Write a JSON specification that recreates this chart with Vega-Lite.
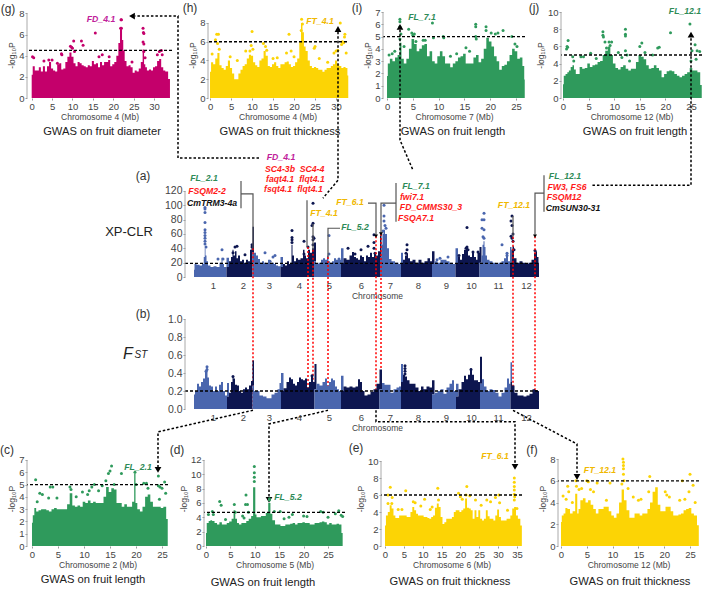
{"$schema":"https://vega.github.io/schema/vega-lite/v6.json","autosize":"none","padding":{"left":27,"top":12,"right":682,"bottom":578},"background":"white",
"config":{"font":"Liberation Sans","view":{"stroke":null},"axis":{"grid":false,"domain":false,"ticks":true,"tickSize":2,"tickColor":"#999","labelColor":"#444","titleColor":"#444","labelFontSize":9.5,"titleFontSize":8.5,"titleFontWeight":"normal","labelPadding":1,"titlePadding":2}},
"datasets":{
"gE":[{"x":0,"y":2.2},{"x":0.5,"y":3},{"x":1,"y":2.6},{"x":1.5,"y":2.6},{"x":2,"y":2.9},{"x":2.5,"y":2.5},{"x":3,"y":3},{"x":3.5,"y":2.5},{"x":4,"y":3},{"x":4.5,"y":3.4},{"x":5,"y":2.8},{"x":5.5,"y":2.6},{"x":6,"y":2.5},{"x":6.5,"y":3.2},{"x":7,"y":3.3},{"x":7.5,"y":2.7},{"x":8,"y":2.8},{"x":8.5,"y":3.4},{"x":9,"y":3.9},{"x":9.5,"y":4.3},{"x":10,"y":3.9},{"x":10.5,"y":3.3},{"x":11,"y":3},{"x":11.5,"y":3.4},{"x":12,"y":3.3},{"x":12.5,"y":3.1},{"x":13,"y":3},{"x":13.5,"y":2.9},{"x":14,"y":3.1},{"x":14.5,"y":3},{"x":15,"y":3.5},{"x":15.5,"y":3.2},{"x":16,"y":3.3},{"x":16.5,"y":2.9},{"x":17,"y":3.4},{"x":17.5,"y":3.1},{"x":18,"y":3.4},{"x":18.5,"y":3.4},{"x":19,"y":3.6},{"x":19.5,"y":3},{"x":20,"y":3.2},{"x":20.5,"y":3.4},{"x":21,"y":4},{"x":21.5,"y":5.2},{"x":21.8,"y":6.5},{"x":22,"y":6.5},{"x":22.3,"y":5.5},{"x":22.6,"y":4.5},{"x":23,"y":3.5},{"x":23.5,"y":3},{"x":24,"y":3.1},{"x":24.5,"y":2.9},{"x":25,"y":2.4},{"x":25.5,"y":2.6},{"x":26,"y":2.5},{"x":26.5,"y":2.8},{"x":27,"y":3.4},{"x":27.4,"y":4.6},{"x":27.7,"y":3.2},{"x":28,"y":2.9},{"x":28.5,"y":2.6},{"x":29,"y":2.7},{"x":29.5,"y":2.6},{"x":30,"y":2.9},{"x":30.5,"y":3},{"x":31,"y":3.5},{"x":31.5,"y":3.7},{"x":32,"y":2.9},{"x":32.5,"y":2.6},{"x":33,"y":2.5},{"x":33.9,"y":1.8}],
"gP":[{"x":0.2,"y":3.9},{"x":0.5,"y":3.8},{"x":3,"y":3.5},{"x":4.2,"y":3.6},{"x":5,"y":3.6},{"x":6.3,"y":3.3},{"x":7.3,"y":4.2},{"x":7.4,"y":4.1},{"x":9.5,"y":4.9},{"x":9.8,"y":4.8},{"x":10,"y":4.7},{"x":10.3,"y":5.4},{"x":10.5,"y":4.4},{"x":12.2,"y":5.4},{"x":12.6,"y":5},{"x":15.6,"y":6.15},{"x":17.3,"y":4.1},{"x":19,"y":3.9},{"x":21.9,"y":7.4},{"x":22,"y":7.4},{"x":21.8,"y":6.6},{"x":22,"y":6.6},{"x":27.3,"y":6.6},{"x":27.4,"y":6.2},{"x":27.5,"y":6.1},{"x":27.3,"y":5.3},{"x":27.5,"y":5.1},{"x":27.5,"y":4.4},{"x":27.8,"y":3.8},{"x":31.3,"y":4.4},{"x":30.8,"y":4.1},{"x":31.8,"y":4.5},{"x":32,"y":4.1},{"x":16.5,"y":3.9},{"x":24.6,"y":3.4}],
"hE":[{"x":0,"y":2.8},{"x":0.5,"y":3.8},{"x":1,"y":3.6},{"x":1.5,"y":4.2},{"x":2,"y":4.8},{"x":2.5,"y":3.5},{"x":3,"y":3.2},{"x":3.5,"y":3},{"x":4,"y":3.4},{"x":4.5,"y":4},{"x":5,"y":3.2},{"x":5.5,"y":2.6},{"x":6,"y":2},{"x":6.5,"y":2},{"x":7,"y":2.6},{"x":7.5,"y":3},{"x":8,"y":3.4},{"x":8.5,"y":3.6},{"x":9,"y":4.2},{"x":9.5,"y":4.6},{"x":10,"y":4.5},{"x":10.5,"y":3.8},{"x":11,"y":3.5},{"x":11.5,"y":3.3},{"x":12,"y":4},{"x":12.5,"y":4.2},{"x":13,"y":5},{"x":13.5,"y":4.5},{"x":14,"y":3.4},{"x":14.5,"y":3.3},{"x":15,"y":3.6},{"x":15.5,"y":3.8},{"x":16,"y":3.4},{"x":16.5,"y":3.2},{"x":17,"y":3.6},{"x":17.5,"y":3.6},{"x":18,"y":3.8},{"x":18.5,"y":3.9},{"x":19,"y":3.6},{"x":19.5,"y":3.3},{"x":20,"y":3.4},{"x":20.5,"y":3.8},{"x":21,"y":4.2},{"x":21.5,"y":6},{"x":21.8,"y":8},{"x":22.2,"y":7},{"x":22.5,"y":5.5},{"x":23,"y":5},{"x":23.5,"y":4},{"x":24,"y":3.4},{"x":24.5,"y":3.2},{"x":25,"y":3.3},{"x":25.5,"y":3.2},{"x":26,"y":3},{"x":26.5,"y":3},{"x":27,"y":2.8},{"x":27.5,"y":3},{"x":28,"y":3.2},{"x":28.5,"y":3.2},{"x":29,"y":3.4},{"x":29.5,"y":3.6},{"x":30,"y":4},{"x":30.5,"y":3.6},{"x":31,"y":3.4},{"x":31.5,"y":3.2},{"x":32,"y":3.3},{"x":32.5,"y":3.2},{"x":32.9,"y":2.4}],
"hP":[{"x":1.3,"y":6.2},{"x":1.6,"y":6.8},{"x":2,"y":6.8},{"x":1.8,"y":5.8},{"x":0.5,"y":4.7},{"x":2.2,"y":5.2},{"x":10,"y":7.1},{"x":4.8,"y":4.4},{"x":8.5,"y":5},{"x":9.5,"y":5},{"x":9.8,"y":5.6},{"x":10.2,"y":5.2},{"x":12.7,"y":5.8},{"x":13.2,"y":5.5},{"x":13.5,"y":5.1},{"x":18.8,"y":6.8},{"x":18.2,"y":4.8},{"x":19.3,"y":5},{"x":20,"y":4.4},{"x":21.8,"y":8.4},{"x":22,"y":7.9},{"x":21.7,"y":7.2},{"x":24.8,"y":5.3},{"x":25,"y":5.5},{"x":29.5,"y":4.8},{"x":30,"y":5},{"x":30.4,"y":5.1},{"x":31,"y":8},{"x":31.5,"y":6},{"x":32,"y":6.5},{"x":32.1,"y":6.8},{"x":31.3,"y":5.7},{"x":32.4,"y":4.8},{"x":31.8,"y":5.9},{"x":6.5,"y":4},{"x":15,"y":4.2},{"x":16,"y":4.3},{"x":26,"y":4.2},{"x":28,"y":3.8}],
"iE":[{"x":0,"y":1.8},{"x":0.3,"y":2.8},{"x":0.8,"y":3.2},{"x":1.3,"y":3},{"x":1.8,"y":3.3},{"x":2.3,"y":3.5},{"x":2.6,"y":4.5},{"x":3,"y":3.2},{"x":3.5,"y":2.8},{"x":4,"y":3.2},{"x":4.5,"y":4},{"x":5,"y":4.8},{"x":5.5,"y":4.4},{"x":6,"y":3.8},{"x":6.5,"y":4},{"x":7,"y":4.3},{"x":7.5,"y":4.4},{"x":8,"y":3.4},{"x":8.5,"y":3.8},{"x":9,"y":3},{"x":9.5,"y":2.8},{"x":10,"y":3.4},{"x":10.5,"y":3.8},{"x":11,"y":3.4},{"x":11.5,"y":2.8},{"x":12,"y":2.8},{"x":12.5,"y":2.5},{"x":13,"y":2.8},{"x":13.5,"y":3},{"x":14,"y":3.3},{"x":14.5,"y":3.4},{"x":15,"y":3.6},{"x":15.5,"y":2.8},{"x":16,"y":2.8},{"x":16.5,"y":2.8},{"x":17,"y":3.3},{"x":17.5,"y":3.5},{"x":18,"y":2.9},{"x":18.5,"y":3.2},{"x":19,"y":4},{"x":19.5,"y":4.9},{"x":20,"y":4.6},{"x":20.5,"y":4.2},{"x":21,"y":3.4},{"x":21.5,"y":3},{"x":22,"y":2.3},{"x":22.5,"y":2.6},{"x":23,"y":2.7},{"x":23.5,"y":3},{"x":24,"y":3.5},{"x":24.5,"y":4},{"x":25,"y":3.8},{"x":25.5,"y":3.2},{"x":26,"y":3.3},{"x":26.5,"y":2.6},{"x":26.7,"y":1.5}],
"iP":[{"x":0.4,"y":3.5},{"x":1,"y":3.6},{"x":1.5,"y":3.8},{"x":2.5,"y":6.4},{"x":2.5,"y":6.2},{"x":2.5,"y":5.8},{"x":2.7,"y":5.2},{"x":2.5,"y":4.8},{"x":3.3,"y":4.2},{"x":4.2,"y":5.6},{"x":4.8,"y":5.3},{"x":5,"y":5.1},{"x":5.3,"y":5.2},{"x":5.6,"y":4.6},{"x":7,"y":4.7},{"x":7.4,"y":4.7},{"x":8.8,"y":6.1},{"x":9,"y":4.9},{"x":10.9,"y":5},{"x":11,"y":4.9},{"x":17.2,"y":6},{"x":17.2,"y":5.8},{"x":17.2,"y":5},{"x":17.3,"y":4.8},{"x":19.2,"y":5.8},{"x":19.2,"y":5.5},{"x":20.2,"y":5.3},{"x":21,"y":5.2},{"x":21.5,"y":5.3},{"x":22.5,"y":5.5},{"x":24.2,"y":5},{"x":24.8,"y":4.4},{"x":25.2,"y":4.2},{"x":13.5,"y":3.6},{"x":12.3,"y":3.4},{"x":15.3,"y":4.1},{"x":16,"y":3.8}],
"jE":[{"x":0,"y":1.6},{"x":0.3,"y":2.6},{"x":0.7,"y":2.8},{"x":1,"y":3},{"x":1.3,"y":3.2},{"x":1.7,"y":3.6},{"x":2,"y":3.8},{"x":2.3,"y":3.3},{"x":2.7,"y":2.8},{"x":3,"y":2.8},{"x":3.5,"y":3.6},{"x":4,"y":3.4},{"x":4.5,"y":3.5},{"x":5,"y":4},{"x":5.5,"y":3.6},{"x":6,"y":3.8},{"x":6.5,"y":3.9},{"x":7,"y":4.2},{"x":7.5,"y":4.3},{"x":8,"y":5},{"x":8.5,"y":5.5},{"x":9,"y":6},{"x":9.5,"y":5},{"x":10,"y":4},{"x":10.5,"y":3.5},{"x":11,"y":3.3},{"x":11.5,"y":3.6},{"x":12,"y":3.8},{"x":12.5,"y":3.4},{"x":13,"y":3.2},{"x":13.5,"y":3.4},{"x":14,"y":3.4},{"x":14.5,"y":4.2},{"x":15,"y":5},{"x":15.5,"y":4.8},{"x":16,"y":4.5},{"x":16.5,"y":3.8},{"x":17,"y":3.4},{"x":17.5,"y":3.5},{"x":18,"y":3.8},{"x":18.5,"y":3.5},{"x":19,"y":3.2},{"x":19.5,"y":2.4},{"x":20,"y":2.8},{"x":20.5,"y":3.1},{"x":21,"y":3.2},{"x":21.5,"y":3.1},{"x":22,"y":2.8},{"x":22.5,"y":2.6},{"x":23,"y":2.4},{"x":23.5,"y":2.6},{"x":24,"y":2.8},{"x":24.5,"y":3},{"x":25,"y":3.5},{"x":25.5,"y":3.2},{"x":26,"y":3.2},{"x":26.5,"y":3},{"x":27.1,"y":1.5}],
"jP":[{"x":0.7,"y":5.7},{"x":0.8,"y":6},{"x":0.9,"y":5.9},{"x":1,"y":6.7},{"x":1.9,"y":4.8},{"x":2.1,"y":4.3},{"x":3.5,"y":4.8},{"x":5.4,"y":5.2},{"x":7.8,"y":7.7},{"x":7.8,"y":7.3},{"x":7.9,"y":7.1},{"x":8.2,"y":6.5},{"x":9,"y":6.5},{"x":9.5,"y":6.5},{"x":8.5,"y":5.8},{"x":9.2,"y":6.1},{"x":12.2,"y":8},{"x":12.2,"y":7.4},{"x":12.2,"y":7.2},{"x":12.2,"y":5.5},{"x":11.5,"y":4.7},{"x":12.5,"y":5},{"x":13,"y":4.3},{"x":15.4,"y":6.4},{"x":15,"y":6},{"x":16,"y":5.3},{"x":17.5,"y":5},{"x":18.5,"y":5.8},{"x":18.8,"y":5.9},{"x":21,"y":7.6},{"x":24.8,"y":8.6},{"x":25.2,"y":5.5},{"x":25.8,"y":6.2},{"x":26.2,"y":5.5},{"x":26.7,"y":5.4},{"x":26,"y":4.5},{"x":25,"y":4.3},{"x":10.8,"y":5.3},{"x":6.5,"y":4.6},{"x":4,"y":4.8}],
"cE":[{"x":0,"y":1.9},{"x":0.3,"y":2.5},{"x":0.6,"y":3.1},{"x":1,"y":2.8},{"x":1.5,"y":2.9},{"x":2,"y":3},{"x":2.5,"y":3},{"x":3,"y":2.9},{"x":3.5,"y":2.8},{"x":4,"y":3},{"x":4.5,"y":3.1},{"x":5,"y":3},{"x":5.5,"y":3},{"x":6,"y":3},{"x":6.5,"y":3},{"x":7,"y":3.4},{"x":7.5,"y":4.3},{"x":8,"y":3.3},{"x":8.5,"y":3.2},{"x":9,"y":3.3},{"x":9.5,"y":3.2},{"x":10,"y":3.6},{"x":10.5,"y":3.5},{"x":11,"y":3.7},{"x":11.5,"y":3.5},{"x":12,"y":3.6},{"x":12.5,"y":3.5},{"x":13,"y":3.5},{"x":13.5,"y":3.5},{"x":14,"y":4},{"x":14.5,"y":4.8},{"x":15,"y":4.4},{"x":15.5,"y":4.7},{"x":16,"y":4.6},{"x":16.5,"y":3.5},{"x":17,"y":3.5},{"x":17.5,"y":3.2},{"x":18,"y":3.4},{"x":18.5,"y":3.2},{"x":19,"y":3.2},{"x":19.5,"y":3.6},{"x":19.8,"y":5.9},{"x":20,"y":3.5},{"x":20.5,"y":3},{"x":21,"y":2.8},{"x":21.5,"y":3.2},{"x":22,"y":4},{"x":22.5,"y":4.2},{"x":23,"y":3.6},{"x":23.5,"y":3.2},{"x":24,"y":3.2},{"x":24.5,"y":3.2},{"x":25,"y":3.1},{"x":25.5,"y":3.2},{"x":26.1,"y":2.2}],
"cP":[{"x":0.7,"y":5.4},{"x":1,"y":3.6},{"x":1.5,"y":4.3},{"x":2,"y":4.2},{"x":3.5,"y":4.8},{"x":4,"y":4.8},{"x":3.2,"y":3.9},{"x":4.8,"y":3.9},{"x":7.3,"y":4.8},{"x":7.5,"y":4.6},{"x":8.5,"y":4},{"x":11,"y":4.5},{"x":11.5,"y":4.8},{"x":12,"y":5},{"x":12.8,"y":4.5},{"x":13.5,"y":4.9},{"x":14.2,"y":5.3},{"x":14.7,"y":5.9},{"x":15,"y":6.1},{"x":15.3,"y":6.5},{"x":15.8,"y":5},{"x":17.2,"y":5.9},{"x":19.8,"y":6},{"x":20,"y":5},{"x":21.5,"y":5.1},{"x":22,"y":5.1},{"x":22.3,"y":4.7},{"x":24.3,"y":5.7},{"x":24.3,"y":4.9},{"x":24.6,"y":4.8},{"x":25,"y":4.7},{"x":25.5,"y":5.2},{"x":25.7,"y":4.3},{"x":24.5,"y":3.8},{"x":9.7,"y":4.4},{"x":10.7,"y":4.2}],
"dE":[{"x":0,"y":1.8},{"x":0.3,"y":3.2},{"x":0.8,"y":3.5},{"x":1,"y":3.6},{"x":1.5,"y":3.5},{"x":2,"y":3.2},{"x":2.5,"y":3},{"x":3,"y":3.3},{"x":3.5,"y":3},{"x":4,"y":3},{"x":4.5,"y":3.2},{"x":5,"y":3.4},{"x":5.5,"y":3.8},{"x":5.8,"y":5},{"x":6.2,"y":3.8},{"x":6.5,"y":3.2},{"x":7,"y":3},{"x":7.5,"y":3.2},{"x":8,"y":3.2},{"x":8.5,"y":3.5},{"x":9,"y":3.8},{"x":9.5,"y":4.2},{"x":9.8,"y":8.2},{"x":10,"y":8.2},{"x":10.2,"y":4.4},{"x":10.5,"y":4},{"x":11,"y":4},{"x":11.5,"y":4.2},{"x":12,"y":4.2},{"x":12.5,"y":4.6},{"x":13,"y":6},{"x":13.4,"y":4.5},{"x":13.8,"y":3.6},{"x":14.5,"y":3},{"x":15,"y":3},{"x":15.5,"y":2.8},{"x":16,"y":2.8},{"x":16.5,"y":3},{"x":17,"y":3},{"x":17.5,"y":3.1},{"x":18,"y":3.2},{"x":18.5,"y":3},{"x":19,"y":3.2},{"x":19.5,"y":3.2},{"x":20,"y":3.3},{"x":20.5,"y":3.2},{"x":21,"y":3.2},{"x":21.5,"y":3},{"x":22,"y":3},{"x":22.5,"y":3.2},{"x":23,"y":3.2},{"x":23.5,"y":3.3},{"x":24,"y":3.4},{"x":24.5,"y":3.3},{"x":25,"y":3},{"x":25.5,"y":3.2},{"x":26,"y":3},{"x":26.5,"y":3},{"x":27,"y":3.1},{"x":27.5,"y":3},{"x":28,"y":1.8}],
"dP":[{"x":0.5,"y":4.4},{"x":1.3,"y":4.8},{"x":1.5,"y":4.4},{"x":2.8,"y":6.2},{"x":3.1,"y":5.7},{"x":4,"y":3.7},{"x":5.8,"y":5.8},{"x":6,"y":4.7},{"x":8.2,"y":7.1},{"x":8.1,"y":5.8},{"x":8.5,"y":5.8},{"x":8.7,"y":4.7},{"x":9.9,"y":11.1},{"x":9.9,"y":10.2},{"x":9.9,"y":9.6},{"x":9.9,"y":9},{"x":13,"y":6.6},{"x":13,"y":6.4},{"x":14,"y":4.8},{"x":15.2,"y":4.8},{"x":17,"y":4},{"x":17.7,"y":4.4},{"x":20,"y":4.2},{"x":20.7,"y":4.1},{"x":23.5,"y":4.8},{"x":24,"y":4.7},{"x":25,"y":4},{"x":27.2,"y":4.9},{"x":27.7,"y":4.3},{"x":28,"y":4.1},{"x":26.5,"y":4.5},{"x":7.5,"y":4.2},{"x":7.8,"y":3.9},{"x":16,"y":3.8}],
"eE":[{"x":0,"y":2.4},{"x":0.5,"y":3.6},{"x":1,"y":4},{"x":1.5,"y":4.8},{"x":2,"y":4.4},{"x":2.5,"y":3.6},{"x":3,"y":3.3},{"x":3.5,"y":3.3},{"x":4,"y":3.6},{"x":4.5,"y":3.6},{"x":5,"y":3.6},{"x":5.5,"y":3.6},{"x":6,"y":3.4},{"x":6.5,"y":3.4},{"x":7,"y":4},{"x":7.5,"y":4.6},{"x":8,"y":4.2},{"x":8.5,"y":3.8},{"x":9,"y":3.6},{"x":9.5,"y":3.6},{"x":10,"y":3.6},{"x":10.5,"y":3.4},{"x":11,"y":3.4},{"x":11.5,"y":3.3},{"x":12,"y":3.2},{"x":12.5,"y":3.4},{"x":13,"y":3.6},{"x":13.5,"y":4.5},{"x":14,"y":5},{"x":14.5,"y":4.6},{"x":15,"y":3.4},{"x":15.5,"y":2.6},{"x":16,"y":2.8},{"x":16.5,"y":3.2},{"x":17,"y":3.2},{"x":17.5,"y":3.2},{"x":18,"y":3.4},{"x":18.5,"y":4},{"x":19,"y":4.2},{"x":19.5,"y":4.2},{"x":20,"y":4},{"x":20.5,"y":4.2},{"x":21,"y":4.4},{"x":21.5,"y":5.6},{"x":22,"y":4.5},{"x":22.5,"y":4.4},{"x":23,"y":4.2},{"x":23.5,"y":3.2},{"x":24,"y":4.2},{"x":24.5,"y":3.4},{"x":25,"y":4.2},{"x":25.5,"y":3.2},{"x":26,"y":3},{"x":26.5,"y":3.2},{"x":27,"y":4.2},{"x":27.5,"y":3.5},{"x":28,"y":3.2},{"x":28.5,"y":3.2},{"x":29,"y":3},{"x":29.5,"y":3.6},{"x":30,"y":4.3},{"x":30.5,"y":3.4},{"x":31,"y":3},{"x":31.5,"y":3},{"x":32,"y":3},{"x":32.5,"y":3.2},{"x":33,"y":3.2},{"x":33.5,"y":3.6},{"x":34,"y":4.4},{"x":34.5,"y":4.6},{"x":35,"y":3.6},{"x":35.5,"y":3.2},{"x":36.3,"y":2.4}],
"eP":[{"x":0.8,"y":6},{"x":1.4,"y":6.9},{"x":1.9,"y":5.7},{"x":0.8,"y":5},{"x":1.8,"y":5},{"x":5.5,"y":6.5},{"x":3.5,"y":4.3},{"x":4.5,"y":4.3},{"x":7.5,"y":5.2},{"x":8,"y":5.1},{"x":10.5,"y":5.5},{"x":9.5,"y":4.7},{"x":12,"y":4.3},{"x":12.5,"y":4.6},{"x":14,"y":6.8},{"x":14.2,"y":5.4},{"x":19.5,"y":6.2},{"x":20,"y":5.8},{"x":20.5,"y":5.5},{"x":21.7,"y":7},{"x":21.5,"y":6},{"x":22.5,"y":5.9},{"x":24,"y":5.4},{"x":25.5,"y":4.8},{"x":27,"y":5.4},{"x":28,"y":5.2},{"x":29.3,"y":5.7},{"x":30.2,"y":6},{"x":30.4,"y":5.1},{"x":32.5,"y":4.2},{"x":34.3,"y":8},{"x":34.3,"y":7.5},{"x":34.3,"y":7},{"x":34.3,"y":6.6},{"x":34.3,"y":6.1},{"x":34.4,"y":5.8},{"x":34.3,"y":5.4},{"x":35,"y":4.4}],
"fE":[{"x":0,"y":2.2},{"x":0.3,"y":2.8},{"x":0.7,"y":3},{"x":1,"y":3.5},{"x":1.5,"y":3.4},{"x":2,"y":3},{"x":2.5,"y":3.2},{"x":3,"y":4.8},{"x":3.3,"y":3},{"x":3.5,"y":3.4},{"x":4,"y":4.2},{"x":4.5,"y":4.4},{"x":5,"y":4},{"x":5.5,"y":4.2},{"x":6,"y":3.8},{"x":6.5,"y":3.4},{"x":7,"y":3},{"x":7.5,"y":3.4},{"x":8,"y":3.4},{"x":8.5,"y":3.6},{"x":9,"y":3.6},{"x":9.5,"y":3.2},{"x":10,"y":2.8},{"x":10.5,"y":2.6},{"x":11,"y":3},{"x":11.5,"y":4},{"x":12,"y":5.2},{"x":12.4,"y":4.2},{"x":13,"y":3.3},{"x":13.5,"y":2.6},{"x":14,"y":2.6},{"x":14.5,"y":3},{"x":15,"y":3},{"x":15.5,"y":2.8},{"x":16,"y":3},{"x":16.5,"y":3},{"x":17,"y":3.4},{"x":17.5,"y":4},{"x":18,"y":5},{"x":18.5,"y":5.4},{"x":19,"y":3.8},{"x":19.5,"y":3.2},{"x":20,"y":3.2},{"x":20.5,"y":3.6},{"x":21,"y":3.6},{"x":21.5,"y":3.2},{"x":22,"y":2.8},{"x":22.5,"y":2.8},{"x":23,"y":2.9},{"x":23.5,"y":3},{"x":24,"y":3.3},{"x":24.5,"y":3.4},{"x":25,"y":3.5},{"x":25.5,"y":3},{"x":26,"y":2.8},{"x":26.7,"y":1.9}],
"fP":[{"x":0.4,"y":4.6},{"x":1,"y":4.3},{"x":1.3,"y":5.5},{"x":1.5,"y":5},{"x":2.2,"y":4},{"x":2.9,"y":6},{"x":3,"y":5.5},{"x":3.5,"y":5.2},{"x":4,"y":5.3},{"x":5,"y":6},{"x":5.3,"y":5.9},{"x":5.7,"y":5.2},{"x":6.3,"y":5},{"x":7,"y":5.8},{"x":8.8,"y":4.2},{"x":9.5,"y":5.8},{"x":11.8,"y":5.7},{"x":12,"y":8},{"x":12.1,"y":7.7},{"x":12.1,"y":7.4},{"x":12.1,"y":7.1},{"x":12.1,"y":6.6},{"x":12.2,"y":6},{"x":13,"y":5.3},{"x":14,"y":4.5},{"x":15.5,"y":4.3},{"x":17.2,"y":6.4},{"x":17,"y":5},{"x":20.2,"y":5},{"x":20.5,"y":4.7},{"x":21,"y":4.5},{"x":23.5,"y":6},{"x":25,"y":6.6},{"x":25.6,"y":5.6},{"x":24.8,"y":5},{"x":24,"y":4.3},{"x":23,"y":4.2},{"x":26,"y":4},{"x":15,"y":4.2}],
"aE":[{"c":1,"x":9,"y":10},{"c":1,"x":10,"y":18},{"c":1,"x":13,"y":17},{"c":1,"x":16,"y":16},{"c":1,"x":18,"y":18},{"c":1,"x":19.5,"y":28},{"c":1,"x":20,"y":40},{"c":1,"x":21,"y":30},{"c":1,"x":22,"y":22},{"c":1,"x":24,"y":16},{"c":1,"x":27,"y":14},{"c":1,"x":30,"y":15},{"c":1,"x":33,"y":14},{"c":1,"x":36,"y":20},{"c":1,"x":37,"y":27},{"c":1,"x":38,"y":18},{"c":1,"x":40,"y":14},{"c":1,"x":43,"y":13},
{"c":2,"x":43,"y":14},{"c":2,"x":45,"y":22},{"c":2,"x":47,"y":28},{"c":2,"x":48,"y":38},{"c":2,"x":49,"y":30},{"c":2,"x":51,"y":36},{"c":2,"x":52,"y":26},{"c":2,"x":54,"y":30},{"c":2,"x":56,"y":22},{"c":2,"x":58,"y":24},{"c":2,"x":60,"y":20},{"c":2,"x":62,"y":24},{"c":2,"x":64,"y":22},{"c":2,"x":66,"y":38},{"c":2,"x":67,"y":40},{"c":2,"x":68,"y":35},
{"c":3,"x":68,"y":35},{"c":3,"x":70,"y":34},{"c":3,"x":72,"y":30},{"c":3,"x":74,"y":25},{"c":3,"x":76,"y":20},{"c":3,"x":78,"y":22},{"c":3,"x":80,"y":20},{"c":3,"x":82,"y":19},{"c":3,"x":84,"y":24},{"c":3,"x":86,"y":20},{"c":3,"x":88,"y":20},{"c":3,"x":90,"y":18},{"c":3,"x":92,"y":16},{"c":3,"x":94,"y":15},{"c":3,"x":97,"y":14},
{"c":4,"x":97,"y":14},{"c":4,"x":99,"y":18},{"c":4,"x":101,"y":16},{"c":4,"x":103,"y":22},{"c":4,"x":105,"y":18},{"c":4,"x":106,"y":20},{"c":4,"x":107,"y":45},{"c":4,"x":108,"y":30},{"c":4,"x":110,"y":22},{"c":4,"x":112,"y":26},{"c":4,"x":114,"y":24},{"c":4,"x":117,"y":26},{"c":4,"x":119,"y":38},{"c":4,"x":120,"y":30},{"c":4,"x":122,"y":26},{"c":4,"x":124,"y":38},{"c":4,"x":126,"y":34},{"c":4,"x":128,"y":40},{"c":4,"x":130,"y":26},
{"c":5,"x":130,"y":22},{"c":5,"x":132,"y":18},{"c":5,"x":135,"y":20},{"c":5,"x":137,"y":24},{"c":5,"x":139,"y":26},{"c":5,"x":141,"y":24},{"c":5,"x":143,"y":30},{"c":5,"x":144,"y":22},{"c":5,"x":146,"y":20},{"c":5,"x":148,"y":22},{"c":5,"x":150,"y":26},{"c":5,"x":152,"y":24},{"c":5,"x":155,"y":24},{"c":5,"x":157,"y":20},
{"c":6,"x":157,"y":20},{"c":6,"x":160,"y":26},{"c":6,"x":163,"y":24},{"c":6,"x":166,"y":30},{"c":6,"x":168,"y":35},{"c":6,"x":170,"y":28},{"c":6,"x":172,"y":26},{"c":6,"x":174,"y":24},{"c":6,"x":176,"y":30},{"c":6,"x":178,"y":28},{"c":6,"x":180,"y":22},{"c":6,"x":182,"y":30},{"c":6,"x":184,"y":28},{"c":6,"x":186,"y":34},{"c":6,"x":188,"y":28},{"c":6,"x":190,"y":32},{"c":6,"x":192,"y":30},{"c":6,"x":194,"y":36},{"c":6,"x":196,"y":30},
{"c":7,"x":196,"y":28},{"c":7,"x":197,"y":45},{"c":7,"x":198,"y":60},{"c":7,"x":199,"y":66},{"c":7,"x":201,"y":60},{"c":7,"x":203,"y":40},{"c":7,"x":205,"y":25},{"c":7,"x":208,"y":22},{"c":7,"x":212,"y":20},{"c":7,"x":215,"y":18},{"c":7,"x":217,"y":16},
{"c":8,"x":217,"y":18},{"c":8,"x":219,"y":24},{"c":8,"x":221,"y":30},{"c":8,"x":222,"y":33},{"c":8,"x":224,"y":26},{"c":8,"x":226,"y":22},{"c":8,"x":229,"y":24},{"c":8,"x":232,"y":20},{"c":8,"x":235,"y":24},{"c":8,"x":238,"y":20},{"c":8,"x":241,"y":22},{"c":8,"x":244,"y":26},{"c":8,"x":246,"y":22},{"c":8,"x":248,"y":18},
{"c":9,"x":248,"y":18},{"c":9,"x":251,"y":22},{"c":9,"x":254,"y":20},{"c":9,"x":257,"y":24},{"c":9,"x":260,"y":24},{"c":9,"x":263,"y":22},{"c":9,"x":266,"y":20},{"c":9,"x":269,"y":18},{"c":9,"x":272,"y":22},
{"c":10,"x":272,"y":18},{"c":10,"x":274,"y":28},{"c":10,"x":276,"y":24},{"c":10,"x":278,"y":32},{"c":10,"x":280,"y":38},{"c":10,"x":282,"y":43},{"c":10,"x":284,"y":30},{"c":10,"x":286,"y":28},{"c":10,"x":288,"y":36},{"c":10,"x":290,"y":28},{"c":10,"x":292,"y":24},{"c":10,"x":293,"y":34},{"c":10,"x":296,"y":22},
{"c":11,"x":296,"y":20},{"c":11,"x":297,"y":30},{"c":11,"x":298,"y":45},{"c":11,"x":299,"y":50},{"c":11,"x":300,"y":42},{"c":11,"x":301,"y":30},{"c":11,"x":303,"y":24},{"c":11,"x":306,"y":22},{"c":11,"x":309,"y":20},{"c":11,"x":312,"y":18},{"c":11,"x":315,"y":20},{"c":11,"x":318,"y":22},{"c":11,"x":320,"y":26},{"c":11,"x":322,"y":33},{"c":11,"x":324,"y":22},{"c":11,"x":326,"y":22},
{"c":12,"x":326,"y":20},{"c":12,"x":327,"y":38},{"c":12,"x":328,"y":43},{"c":12,"x":330,"y":26},{"c":12,"x":333,"y":20},{"c":12,"x":336,"y":22},{"c":12,"x":339,"y":20},{"c":12,"x":342,"y":18},{"c":12,"x":345,"y":20},{"c":12,"x":348,"y":24},{"c":12,"x":350,"y":34},{"c":12,"x":351,"y":36},{"c":12,"x":353,"y":28},{"c":12,"x":354,"y":20}],
"aP":[{"c":1,"x":20,"y":97},{"c":1,"x":20,"y":95},{"c":1,"x":20,"y":90},{"c":1,"x":20,"y":76},{"c":1,"x":20,"y":66},{"c":1,"x":20,"y":62},{"c":1,"x":20,"y":58},{"c":1,"x":20,"y":54},{"c":1,"x":20,"y":50},{"c":1,"x":20,"y":46},{"c":1,"x":21,"y":42},{"c":1,"x":37,"y":38},{"c":1,"x":33,"y":25},{"c":1,"x":38,"y":25},
{"c":2,"x":50,"y":42},{"c":2,"x":52,"y":43},{"c":2,"x":48,"y":34},{"c":2,"x":60,"y":31},{"c":2,"x":67,"y":42},{"c":2,"x":67,"y":45},
{"c":3,"x":80,"y":34},{"c":3,"x":88,"y":28},{"c":3,"x":90,"y":30},{"c":3,"x":85,"y":22},
{"c":4,"x":107,"y":65},{"c":4,"x":107,"y":55},{"c":4,"x":107,"y":52},{"c":4,"x":107,"y":48},{"c":4,"x":119,"y":50},{"c":4,"x":119,"y":32},{"c":4,"x":123,"y":42},{"c":4,"x":128,"y":103},{"c":4,"x":128,"y":75},{"c":4,"x":127,"y":72},{"c":4,"x":128,"y":56},{"c":4,"x":129,"y":54},{"c":4,"x":128,"y":52},{"c":4,"x":128,"y":45},
{"c":5,"x":144,"y":58},{"c":5,"x":144,"y":32},{"c":5,"x":154,"y":25},
{"c":6,"x":163,"y":40},{"c":6,"x":183,"y":43},{"c":6,"x":189,"y":59},{"c":6,"x":189,"y":48},{"c":6,"x":189,"y":40},{"c":6,"x":190,"y":33},{"c":6,"x":176,"y":38},{"c":6,"x":170,"y":32},
{"c":7,"x":199,"y":100},{"c":7,"x":199,"y":85},{"c":7,"x":199,"y":78},{"c":7,"x":200,"y":72},{"c":7,"x":198,"y":64},{"c":7,"x":201,"y":68},
{"c":8,"x":222,"y":45},{"c":8,"x":222,"y":38},{"c":8,"x":221,"y":33},
{"c":9,"x":255,"y":26},{"c":9,"x":263,"y":28},{"c":9,"x":252,"y":24},
{"c":10,"x":282,"y":69},{"c":10,"x":282,"y":42},{"c":10,"x":281,"y":40},{"c":10,"x":283,"y":38},{"c":10,"x":288,"y":35},{"c":10,"x":293,"y":35},{"c":10,"x":274,"y":30},
{"c":11,"x":299,"y":89},{"c":11,"x":297,"y":80},{"c":11,"x":299,"y":80},{"c":11,"x":297,"y":68},{"c":11,"x":299,"y":66},{"c":11,"x":298,"y":56},{"c":11,"x":299,"y":54},{"c":11,"x":317,"y":45},{"c":11,"x":322,"y":33},{"c":11,"x":322,"y":30},
{"c":12,"x":327,"y":85},{"c":12,"x":326,"y":78},{"c":12,"x":327,"y":72},{"c":12,"x":328,"y":60},{"c":12,"x":326,"y":57},{"c":12,"x":327,"y":54},{"c":12,"x":328,"y":50},{"c":12,"x":329,"y":38},{"c":12,"x":350,"y":37}],
"bE":[{"c":1,"x":9,"y":0.16},{"c":1,"x":11,"y":0.2},{"c":1,"x":13,"y":0.28},{"c":1,"x":15,"y":0.25},{"c":1,"x":17,"y":0.3},{"c":1,"x":19,"y":0.34},{"c":1,"x":21,"y":0.42},{"c":1,"x":22,"y":0.47},{"c":1,"x":23,"y":0.35},{"c":1,"x":25,"y":0.26},{"c":1,"x":27,"y":0.25},{"c":1,"x":29,"y":0.2},{"c":1,"x":31,"y":0.25},{"c":1,"x":33,"y":0.2},{"c":1,"x":35,"y":0.27},{"c":1,"x":37,"y":0.3},{"c":1,"x":39,"y":0.2},{"c":1,"x":41,"y":0.15},{"c":1,"x":43,"y":0.15},
{"c":2,"x":43,"y":0.14},{"c":2,"x":45,"y":0.18},{"c":2,"x":47,"y":0.3},{"c":2,"x":48,"y":0.36},{"c":2,"x":49,"y":0.34},{"c":2,"x":51,"y":0.27},{"c":2,"x":53,"y":0.26},{"c":2,"x":55,"y":0.2},{"c":2,"x":57,"y":0.18},{"c":2,"x":59,"y":0.22},{"c":2,"x":61,"y":0.24},{"c":2,"x":63,"y":0.22},{"c":2,"x":65,"y":0.26},{"c":2,"x":67,"y":0.31},{"c":2,"x":68,"y":0.28},
{"c":3,"x":68,"y":0.26},{"c":3,"x":70,"y":0.2},{"c":3,"x":73,"y":0.2},{"c":3,"x":76,"y":0.15},{"c":3,"x":80,"y":0.14},{"c":3,"x":83,"y":0.12},{"c":3,"x":85,"y":0.12},{"c":3,"x":88,"y":0.16},{"c":3,"x":91,"y":0.18},{"c":3,"x":94,"y":0.22},{"c":3,"x":95,"y":0.29},{"c":3,"x":97,"y":0.2},
{"c":4,"x":97,"y":0.2},{"c":4,"x":100,"y":0.23},{"c":4,"x":103,"y":0.3},{"c":4,"x":105,"y":0.35},{"c":4,"x":107,"y":0.33},{"c":4,"x":109,"y":0.28},{"c":4,"x":111,"y":0.26},{"c":4,"x":113,"y":0.3},{"c":4,"x":115,"y":0.35},{"c":4,"x":117,"y":0.33},{"c":4,"x":119,"y":0.32},{"c":4,"x":121,"y":0.34},{"c":4,"x":123,"y":0.24},{"c":4,"x":125,"y":0.3},{"c":4,"x":127,"y":0.37},{"c":4,"x":129,"y":0.3},{"c":4,"x":130,"y":0.28},
{"c":5,"x":130,"y":0.22},{"c":5,"x":133,"y":0.28},{"c":5,"x":136,"y":0.26},{"c":5,"x":139,"y":0.3},{"c":5,"x":141,"y":0.34},{"c":5,"x":143,"y":0.26},{"c":5,"x":145,"y":0.3},{"c":5,"x":147,"y":0.34},{"c":5,"x":149,"y":0.32},{"c":5,"x":151,"y":0.25},{"c":5,"x":153,"y":0.22},{"c":5,"x":155,"y":0.2},{"c":5,"x":157,"y":0.17},
{"c":6,"x":157,"y":0.2},{"c":6,"x":160,"y":0.25},{"c":6,"x":163,"y":0.24},{"c":6,"x":166,"y":0.25},{"c":6,"x":169,"y":0.24},{"c":6,"x":172,"y":0.25},{"c":6,"x":174,"y":0.33},{"c":6,"x":176,"y":0.3},{"c":6,"x":178,"y":0.2},{"c":6,"x":181,"y":0.15},{"c":6,"x":184,"y":0.16},{"c":6,"x":187,"y":0.19},{"c":6,"x":190,"y":0.22},{"c":6,"x":193,"y":0.28},{"c":6,"x":196,"y":0.22},
{"c":7,"x":196,"y":0.22},{"c":7,"x":198,"y":0.29},{"c":7,"x":201,"y":0.27},{"c":7,"x":204,"y":0.27},{"c":7,"x":207,"y":0.18},{"c":7,"x":210,"y":0.22},{"c":7,"x":213,"y":0.24},{"c":7,"x":215,"y":0.25},{"c":7,"x":217,"y":0.2},
{"c":8,"x":217,"y":0.3},{"c":8,"x":219,"y":0.38},{"c":8,"x":221,"y":0.36},{"c":8,"x":223,"y":0.32},{"c":8,"x":226,"y":0.28},{"c":8,"x":229,"y":0.28},{"c":8,"x":232,"y":0.24},{"c":8,"x":235,"y":0.2},{"c":8,"x":237,"y":0.25},{"c":8,"x":240,"y":0.22},{"c":8,"x":243,"y":0.25},{"c":8,"x":246,"y":0.24},{"c":8,"x":248,"y":0.16},
{"c":9,"x":248,"y":0.16},{"c":9,"x":251,"y":0.18},{"c":9,"x":254,"y":0.2},{"c":9,"x":257,"y":0.22},{"c":9,"x":260,"y":0.17},{"c":9,"x":263,"y":0.24},{"c":9,"x":266,"y":0.28},{"c":9,"x":268,"y":0.32},{"c":9,"x":270,"y":0.2},{"c":9,"x":272,"y":0.14},
{"c":10,"x":272,"y":0.14},{"c":10,"x":275,"y":0.22},{"c":10,"x":278,"y":0.3},{"c":10,"x":280,"y":0.37},{"c":10,"x":282,"y":0.33},{"c":10,"x":284,"y":0.38},{"c":10,"x":286,"y":0.45},{"c":10,"x":288,"y":0.38},{"c":10,"x":290,"y":0.32},{"c":10,"x":292,"y":0.32},{"c":10,"x":294,"y":0.3},{"c":10,"x":296,"y":0.3},
{"c":11,"x":296,"y":0.28},{"c":11,"x":298,"y":0.33},{"c":11,"x":300,"y":0.25},{"c":11,"x":303,"y":0.2},{"c":11,"x":306,"y":0.22},{"c":11,"x":309,"y":0.21},{"c":11,"x":312,"y":0.18},{"c":11,"x":315,"y":0.14},{"c":11,"x":318,"y":0.18},{"c":11,"x":321,"y":0.24},{"c":11,"x":323,"y":0.34},{"c":11,"x":325,"y":0.28},{"c":11,"x":326,"y":0.22},
{"c":12,"x":326,"y":0.3},{"c":12,"x":328,"y":0.26},{"c":12,"x":331,"y":0.18},{"c":12,"x":334,"y":0.15},{"c":12,"x":337,"y":0.15},{"c":12,"x":340,"y":0.14},{"c":12,"x":343,"y":0.15},{"c":12,"x":346,"y":0.17},{"c":12,"x":349,"y":0.22},{"c":12,"x":351,"y":0.21},{"c":12,"x":354,"y":0.2}],
"bP":[{"c":1,"x":22,"y":0.47},{"c":1,"x":22,"y":0.44},{"c":1,"x":21,"y":0.42},{"c":8,"x":220,"y":0.48},{"c":8,"x":220,"y":0.45},{"c":8,"x":220,"y":0.42},{"c":8,"x":220,"y":0.39},{"c":10,"x":286,"y":0.44},{"c":2,"x":48,"y":0.36},{"c":4,"x":127,"y":0.37}]
},
"spacing":42,"bounds":"flush",
"vconcat":[
{"spacing":36,"bounds":"flush","hconcat":[
{"width":145,"height":86,"layer":[
{"data":{"name":"gE"},"mark":{"type":"area","color":"#c4006b","interpolate":"step"},"encoding":{"x":{"field":"x","type":"quantitative","scale":{"domain":[-1.15,34.4],"nice":false},"axis":{"tickCount":30,"labelOverlap":false,"format":"d","values":[0,5,10,15,20,25,30],"title":"Chromosome 4 (Mb)"}},"y":{"field":"y","type":"quantitative","scale":{"domain":[0,8.14],"nice":false},"axis":{"tickCount":30,"labelOverlap":false,"format":"d","values":[0,2,4,6,8],"title":"-log₁₀P"}}}},
{"data":{"name":"gP"},"mark":{"type":"circle","size":9,"color":"#c4006b","opacity":1},"encoding":{"x":{"field":"x","type":"quantitative"},"y":{"field":"y","type":"quantitative"}}},
{"data":{"values":[{"t":4.5}]},"mark":{"type":"rule","color":"#000","strokeDash":[3,2],"strokeWidth":1.3},"encoding":{"y":{"field":"t","type":"quantitative"}}},
{"data":{"values":[{"a":-1.15,"y0":0,"y1":8}]},"mark":{"type":"rule","color":"#aaa"},"encoding":{"x":{"field":"a","type":"quantitative"},"y":{"field":"y0","type":"quantitative"},"y2":{"field":"y1"}}}]},
{"width":139,"height":86,"layer":[
{"data":{"name":"hE"},"mark":{"type":"area","color":"#fcd405","interpolate":"step"},"encoding":{"x":{"field":"x","type":"quantitative","scale":{"domain":[-0.48,32.6],"nice":false},"axis":{"tickCount":30,"labelOverlap":false,"format":"d","values":[0,5,10,15,20,25,30],"title":"Chromosome 4 (Mb)"}},"y":{"field":"y","type":"quantitative","scale":{"domain":[0,9.17],"nice":false},"axis":{"tickCount":30,"labelOverlap":false,"format":"d","values":[0,2,4,6,8],"title":"-log₁₀P"}}}},
{"data":{"name":"hP"},"mark":{"type":"circle","size":9,"color":"#fcd405","opacity":1},"encoding":{"x":{"field":"x","type":"quantitative"},"y":{"field":"y","type":"quantitative"}}},
{"data":{"values":[{"t":6}]},"mark":{"type":"rule","color":"#000","strokeDash":[3,2],"strokeWidth":1.3},"encoding":{"y":{"field":"t","type":"quantitative"}}},
{"data":{"values":[{"a":-0.48,"y0":0,"y1":8}]},"mark":{"type":"rule","color":"#aaa"},"encoding":{"x":{"field":"a","type":"quantitative"},"y":{"field":"y0","type":"quantitative"},"y2":{"field":"y1"}}}]},
{"width":142,"height":86,"layer":[
{"data":{"name":"iE"},"mark":{"type":"area","color":"#2f9a5c","interpolate":"step"},"encoding":{"x":{"field":"x","type":"quantitative","scale":{"domain":[-0.78,26.75],"nice":false},"axis":{"tickCount":30,"labelOverlap":false,"format":"d","values":[0,5,10,15,20,25],"title":"Chromosome 7 (Mb)"}},"y":{"field":"y","type":"quantitative","scale":{"domain":[0,7],"nice":false},"axis":{"tickCount":30,"labelOverlap":false,"format":"d","values":[0,1,2,3,4,5,6,7],"title":"-log₁₀P"}}}},
{"data":{"name":"iP"},"mark":{"type":"circle","size":9,"color":"#2f9a5c","opacity":1},"encoding":{"x":{"field":"x","type":"quantitative"},"y":{"field":"y","type":"quantitative"}}},
{"data":{"values":[{"t":5}]},"mark":{"type":"rule","color":"#000","strokeDash":[3,2],"strokeWidth":1.3},"encoding":{"y":{"field":"t","type":"quantitative"}}},
{"data":{"values":[{"a":-0.78,"y0":0,"y1":7}]},"mark":{"type":"rule","color":"#aaa"},"encoding":{"x":{"field":"a","type":"quantitative"},"y":{"field":"y0","type":"quantitative"},"y2":{"field":"y1"}}}]},
{"width":141,"height":86,"layer":[
{"data":{"name":"jE"},"mark":{"type":"area","color":"#2f9a5c","interpolate":"step"},"encoding":{"x":{"field":"x","type":"quantitative","scale":{"domain":[-0.39,27.15],"nice":false},"axis":{"tickCount":30,"labelOverlap":false,"format":"d","values":[0,5,10,15,20,25],"title":"Chromosome 12 (Mb)"}},"y":{"field":"y","type":"quantitative","scale":{"domain":[0,10],"nice":false},"axis":{"tickCount":30,"labelOverlap":false,"format":"d","values":[0,2,4,6,8,10],"title":"-log₁₀P"}}}},
{"data":{"name":"jP"},"mark":{"type":"circle","size":9,"color":"#2f9a5c","opacity":1},"encoding":{"x":{"field":"x","type":"quantitative"},"y":{"field":"y","type":"quantitative"}}},
{"data":{"values":[{"t":5}]},"mark":{"type":"rule","color":"#000","strokeDash":[3,2],"strokeWidth":1.3},"encoding":{"y":{"field":"t","type":"quantitative"}}},
{"data":{"values":[{"a":-0.39,"y0":0,"y1":10}]},"mark":{"type":"rule","color":"#aaa"},"encoding":{"x":{"field":"a","type":"quantitative"},"y":{"field":"y0","type":"quantitative"},"y2":{"field":"y1"}}}]}
]},
{"width":512,"height":223,"layer":[
{"data":{"name":"aE"},"mark":{"type":"area","interpolate":"step"},"encoding":{"x":{"field":"x","type":"quantitative","scale":{"domain":[-158,354],"nice":false},"axis":{"tickCount":30,"labelOverlap":false,"values":[28,58,84,114,144,176,205,233,261,286,313,341],"labelExpr":"round(datum.index*11)+1","title":"Chromosome","titleX":350,"titleY":14,"ticks":false,"labelPadding":3}},"y":{"field":"y","type":"quantitative","scale":{"domain":[0,311.1],"nice":false},"axis":{"tickCount":30,"labelOverlap":false,"format":"d","values":[0,20,40,60,80,100,120],"title":null,"labelFontSize":10.5,"offset":-158}},"color":{"field":"c","type":"nominal","legend":null,"scale":{"domain":[1,2,3,4,5,6,7,8,9,10,11,12],"range":["#4a66ae","#0d1650","#4a66ae","#0d1650","#4a66ae","#0d1650","#4a66ae","#0d1650","#4a66ae","#0d1650","#4a66ae","#0d1650"]}}}},
{"data":{"name":"aP"},"mark":{"type":"circle","size":9,"opacity":1},"encoding":{"x":{"field":"x","type":"quantitative"},"y":{"field":"y","type":"quantitative"},"color":{"field":"c","type":"nominal","legend":null}}},
{"data":{"values":[{"t":19,"x0":0,"x1":354}]},"mark":{"type":"rule","color":"#000","strokeDash":[3,2],"strokeWidth":1.3},"encoding":{"y":{"field":"t","type":"quantitative"},"x":{"field":"x0","type":"quantitative"},"x2":{"field":"x1"}}},
{"data":{"values":[{"a":0,"y0":0,"y1":120}]},"mark":{"type":"rule","color":"#aaa"},"encoding":{"x":{"field":"a","type":"quantitative"},"y":{"field":"y0","type":"quantitative"},"y2":{"field":"y1"}}},
{"data":{"values":[{"x":68,"t":40,"b":-184},{"x":123,"t":42,"b":-184},{"x":128,"t":38,"b":-184},{"x":143,"t":28,"b":-184},{"x":191,"t":57,"b":-184},{"x":196,"t":60,"b":-184},{"x":328,"t":56,"b":-184},{"x":350,"t":57,"b":-184}]},"mark":{"type":"rule","color":"#f00","strokeDash":[2,2],"strokeWidth":1.5},"encoding":{"x":{"field":"x","type":"quantitative"},"y":{"field":"t","type":"quantitative"},"y2":{"field":"b"}}},
{"data":{"values":[{"id":"a","o":1,"x":56,"y":134},{"id":"a","o":2,"x":56,"y":96},{"id":"b","o":1,"x":56,"y":116},{"id":"b","o":2,"x":68,"y":116},{"id":"b","o":3,"x":68,"y":40},{"id":"c","o":1,"x":122,"y":107},{"id":"c","o":2,"x":122,"y":42},{"id":"d","o":1,"x":128,"y":74},{"id":"d","o":2,"x":128,"y":38},{"id":"e","o":1,"x":155,"y":68},{"id":"e","o":2,"x":143,"y":68},{"id":"e","o":3,"x":143,"y":28},{"id":"f","o":1,"x":183,"y":103},{"id":"f","o":2,"x":191,"y":103},{"id":"f","o":3,"x":191,"y":59},{"id":"g","o":1,"x":211,"y":131},{"id":"g","o":2,"x":211,"y":77},{"id":"h","o":1,"x":211,"y":103},{"id":"h","o":2,"x":196,"y":103},{"id":"h","o":3,"x":196,"y":61},{"id":"i","o":1,"x":328,"y":85},{"id":"i","o":2,"x":328,"y":56},{"id":"j","o":1,"x":359,"y":142},{"id":"j","o":2,"x":359,"y":91},{"id":"k","o":1,"x":359,"y":117},{"id":"k","o":2,"x":350,"y":117},{"id":"k","o":3,"x":350,"y":59}]},"mark":{"type":"line","color":"#555","strokeWidth":1.2},"encoding":{"x":{"field":"x","type":"quantitative"},"y":{"field":"y","type":"quantitative"},"detail":{"field":"id"},"order":{"field":"o"}}},
{"data":{"values":[{"id":"1","o":1,"x":74,"y":166},{"id":"1","o":2,"x":-7,"y":166},{"id":"1","o":3,"x":-7,"y":364},{"id":"1","o":4,"x":-50,"y":364},{"id":"2","o":1,"x":153,"y":342},{"id":"2","o":2,"x":153,"y":135},{"id":"2","o":3,"x":138,"y":110},{"id":"3","o":1,"x":215,"y":345},{"id":"3","o":2,"x":215,"y":191},{"id":"3","o":3,"x":228,"y":149},{"id":"4","o":1,"x":506,"y":333},{"id":"4","o":2,"x":506,"y":128},{"id":"4","o":3,"x":406,"y":128},{"id":"5","o":1,"x":68,"y":-186},{"id":"5","o":2,"x":-27,"y":-216},{"id":"5","o":3,"x":-27,"y":-265},{"id":"6","o":1,"x":143,"y":-186},{"id":"6","o":2,"x":84,"y":-205},{"id":"6","o":3,"x":84,"y":-307},{"id":"7","o":1,"x":191,"y":-186},{"id":"7","o":2,"x":191,"y":-202},{"id":"7","o":3,"x":330,"y":-202},{"id":"7","o":4,"x":330,"y":-259},{"id":"8","o":1,"x":328,"y":-186},{"id":"8","o":2,"x":392,"y":-233},{"id":"8","o":3,"x":392,"y":-273}]},"mark":{"type":"line","color":"#000","strokeWidth":1.5,"strokeDash":[2.5,2]},"encoding":{"x":{"field":"x","type":"quantitative"},"y":{"field":"y","type":"quantitative"},"detail":{"field":"id"},"order":{"field":"o"}}},
{"data":{"values":[{"x":-53,"y":364}]},"mark":{"type":"point","shape":"triangle-left","size":45,"filled":true,"color":"#000","opacity":1},"encoding":{"x":{"field":"x","type":"quantitative"},"y":{"field":"y","type":"quantitative"}}},
{"data":{"values":[{"x":153,"y":346},{"x":215,"y":349},{"x":506,"y":338}]},"mark":{"type":"point","shape":"triangle-up","size":45,"filled":true,"color":"#000","opacity":1},"encoding":{"x":{"field":"x","type":"quantitative"},"y":{"field":"y","type":"quantitative"}}},
{"data":{"values":[{"x":-27,"y":-269},{"x":84,"y":-311},{"x":330,"y":-265},{"x":392,"y":-279}]},"mark":{"type":"point","shape":"triangle-down","size":45,"filled":true,"color":"#000","opacity":1},"encoding":{"x":{"field":"x","type":"quantitative"},"y":{"field":"y","type":"quantitative"}}},
{"data":{"values":[{"x":191,"y":57},{"x":196,"y":60},{"x":350,"y":57}]},"mark":{"type":"point","shape":"triangle-down","size":16,"filled":true,"color":"#000","opacity":1},"encoding":{"x":{"field":"x","type":"quantitative"},"y":{"field":"y","type":"quantitative"}}},
{"data":{"values":[{"x":96,"y":167,"t":"FD_4.1"},{"x":-84,"y":360,"t":"FD_4.1"}]},"mark":{"type":"text","color":"#c0209a","fontWeight":"bold","fontStyle":"italic","fontSize":8.7},"encoding":{"x":{"field":"x","type":"quantitative"},"y":{"field":"y","type":"quantitative"},"text":{"field":"t"}}},
{"data":{"values":[{"x":19,"y":138,"t":"FL_2.1"},{"x":170,"y":70,"t":"FL_5.2"},{"x":231,"y":127,"t":"FL_7.1"},{"x":380,"y":141,"t":"FL_12.1"},{"x":237,"y":363,"t":"FL_7.1"},{"x":500,"y":371,"t":"FL_12.1"},{"x":-47,"y":-265,"t":"FL_2.1"},{"x":103,"y":-307,"t":"FL_5.2"}]},"mark":{"type":"text","color":"#2e8b57","fontWeight":"bold","fontStyle":"italic","fontSize":8.7},"encoding":{"x":{"field":"x","type":"quantitative"},"y":{"field":"y","type":"quantitative"},"text":{"field":"t"}}},
{"data":{"values":[{"x":139,"y":89,"t":"FT_4.1"},{"x":165,"y":105,"t":"FT_6.1"},{"x":329,"y":100,"t":"FT_12.1"},{"x":135,"y":357,"t":"FT_4.1"},{"x":310,"y":-250,"t":"FT_6.1"},{"x":415,"y":-269,"t":"FT_12.1"}]},"mark":{"type":"text","color":"#f0b800","fontWeight":"bold","fontStyle":"italic","fontSize":8.7},"encoding":{"x":{"field":"x","type":"quantitative"},"y":{"field":"y","type":"quantitative"},"text":{"field":"t"}}},
{"data":{"values":[{"x":95,"y":151,"t":"SC4-3b"},{"x":127,"y":151,"t":"SC4-4"},{"x":95,"y":137,"t":"faqt4.1"},{"x":127,"y":137,"t":"flqt4.1"},{"x":93,"y":123,"t":"fsqt4.1"},{"x":125,"y":123,"t":"flqt4.1"},{"x":22,"y":120,"t":"FSQM2-2"},{"x":227,"y":112,"t":"fwi7.1"},{"x":246,"y":98,"t":"FD_CMMS30_3"},{"x":231,"y":82,"t":"FSQA7.1"},{"x":382,"y":126,"t":"FW3, FS6"},{"x":379,"y":112,"t":"FSQM12"}]},"mark":{"type":"text","color":"#ff1a1a","fontWeight":"bold","fontStyle":"italic","fontSize":8.7},"encoding":{"x":{"field":"x","type":"quantitative"},"y":{"field":"y","type":"quantitative"},"text":{"field":"t"}}},
{"data":{"values":[{"x":27,"y":103,"t":"CmTRM3-4a"},{"x":388,"y":96,"t":"CmSUN30-31"}]},"mark":{"type":"text","color":"#111","fontWeight":"bold","fontStyle":"italic","fontSize":8.7},"encoding":{"x":{"field":"x","type":"quantitative"},"y":{"field":"y","type":"quantitative"},"text":{"field":"t"}}},
{"data":{"values":[{"x":-42,"y":141,"t":"(a)"},{"x":-42,"y":-52,"t":"(b)"},{"x":-177,"y":374,"t":"(g)"},{"x":5,"y":375,"t":"(h)"},{"x":172,"y":375,"t":"(i)"},{"x":349,"y":375,"t":"(j)"},{"x":-178,"y":-241,"t":"(c)"},{"x":-8,"y":-241,"t":"(d)"},{"x":171,"y":-239,"t":"(e)"},{"x":347,"y":-241,"t":"(f)"}]},"mark":{"type":"text","color":"#333","fontSize":12},"encoding":{"x":{"field":"x","type":"quantitative"},"y":{"field":"y","type":"quantitative"},"text":{"field":"t"}}},
{"data":{"values":[{"x":-83,"y":202,"t":"GWAS on fruit diameter"},{"x":95,"y":202,"t":"GWAS on fruit thickness"},{"x":268,"y":202,"t":"GWAS on fruit length"},{"x":450,"y":202,"t":"GWAS on fruit length"},{"x":-92,"y":-423,"t":"GWAS on fruit length"},{"x":78,"y":-427,"t":"GWAS on fruit length"},{"x":265,"y":-426,"t":"GWAS on fruit thickness"},{"x":445,"y":-426,"t":"GWAS on fruit thickness"}]},"mark":{"type":"text","color":"#222","fontSize":11.2},"encoding":{"x":{"field":"x","type":"quantitative"},"y":{"field":"y","type":"quantitative"},"text":{"field":"t"}}},
{"data":{"values":[{"x":-56,"y":63,"t":"XP-CLR"}]},"mark":{"type":"text","color":"#222","fontSize":13},"encoding":{"x":{"field":"x","type":"quantitative"},"y":{"field":"y","type":"quantitative"},"text":{"field":"t"}}},
{"data":{"values":[{"x":-57,"y":-107,"t":"F"}]},"mark":{"type":"text","color":"#222","fontSize":16,"fontStyle":"italic"},"encoding":{"x":{"field":"x","type":"quantitative"},"y":{"field":"y","type":"quantitative"},"text":{"field":"t"}}},
{"data":{"values":[{"x":-44,"y":-109,"t":"ST"}]},"mark":{"type":"text","color":"#222","fontSize":10,"fontStyle":"italic"},"encoding":{"x":{"field":"x","type":"quantitative"},"y":{"field":"y","type":"quantitative"},"text":{"field":"t"}}}
]},
{"width":512,"height":90,"layer":[
{"data":{"name":"bE"},"mark":{"type":"area","interpolate":"step"},"encoding":{"x":{"field":"x","type":"quantitative","scale":{"domain":[-158,354],"nice":false},"axis":{"tickCount":30,"labelOverlap":false,"values":[28,58,84,114,144,176,205,233,261,286,313,341],"labelExpr":"round(datum.index*11)+1","title":"Chromosome","titleX":350,"titleY":14,"ticks":false,"labelPadding":3}},"y":{"field":"y","type":"quantitative","scale":{"domain":[0,1],"nice":false},"axis":{"tickCount":30,"labelOverlap":false,"values":[0,0.2,0.4,0.6,0.8,1],"format":".1f","title":null,"labelFontSize":10.5,"offset":-158}},"color":{"field":"c","type":"nominal","legend":null,"scale":{"domain":[1,2,3,4,5,6,7,8,9,10,11,12],"range":["#4a66ae","#0d1650","#4a66ae","#0d1650","#4a66ae","#0d1650","#4a66ae","#0d1650","#4a66ae","#0d1650","#4a66ae","#0d1650"]}}}},
{"data":{"name":"bP"},"mark":{"type":"circle","size":9,"opacity":1},"encoding":{"x":{"field":"x","type":"quantitative"},"y":{"field":"y","type":"quantitative"},"color":{"field":"c","type":"nominal","legend":null}}},
{"data":{"values":[{"t":0.2,"x0":0,"x1":354}]},"mark":{"type":"rule","color":"#000","strokeDash":[3,2],"strokeWidth":1.3},"encoding":{"y":{"field":"t","type":"quantitative"},"x":{"field":"x0","type":"quantitative"},"x2":{"field":"x1"}}},
{"data":{"values":[{"a":0,"y0":0,"y1":1}]},"mark":{"type":"rule","color":"#aaa"},"encoding":{"x":{"field":"a","type":"quantitative"},"y":{"field":"y0","type":"quantitative"},"y2":{"field":"y1"}}}]},
{"spacing":36,"bounds":"flush","hconcat":[
{"width":141,"height":95,"layer":[
{"data":{"name":"cE"},"mark":{"type":"area","color":"#2f9a5c","interpolate":"step"},"encoding":{"x":{"field":"x","type":"quantitative","scale":{"domain":[-0.96,26.15],"nice":false},"axis":{"tickCount":30,"labelOverlap":false,"format":"d","values":[0,5,10,15,20,25],"title":"Chromosome 2 (Mb)"}},"y":{"field":"y","type":"quantitative","scale":{"domain":[0,7.73],"nice":false},"axis":{"tickCount":30,"labelOverlap":false,"format":"d","values":[0,1,2,3,4,5,6,7],"title":"-log₁₀P"}}}},
{"data":{"name":"cP"},"mark":{"type":"circle","size":9,"color":"#2f9a5c","opacity":1},"encoding":{"x":{"field":"x","type":"quantitative"},"y":{"field":"y","type":"quantitative"}}},
{"data":{"values":[{"t":5}]},"mark":{"type":"rule","color":"#000","strokeDash":[3,2],"strokeWidth":1.3},"encoding":{"y":{"field":"t","type":"quantitative"}}},
{"data":{"values":[{"a":-0.96,"y0":0,"y1":7}]},"mark":{"type":"rule","color":"#aaa"},"encoding":{"x":{"field":"a","type":"quantitative"},"y":{"field":"y0","type":"quantitative"},"y2":{"field":"y1"}}}]},
{"width":141,"height":95,"layer":[
{"data":{"name":"dE"},"mark":{"type":"area","color":"#2f9a5c","interpolate":"step"},"encoding":{"x":{"field":"x","type":"quantitative","scale":{"domain":[-0.41,28.48],"nice":false},"axis":{"tickCount":30,"labelOverlap":false,"format":"d","values":[0,5,10,15,20,25],"title":"Chromosome 5 (Mb)"}},"y":{"field":"y","type":"quantitative","scale":{"domain":[0,13.25],"nice":false},"axis":{"tickCount":30,"labelOverlap":false,"format":"d","values":[0,2,4,6,8,10,12],"title":"-log₁₀P"}}}},
{"data":{"name":"dP"},"mark":{"type":"circle","size":9,"color":"#2f9a5c","opacity":1},"encoding":{"x":{"field":"x","type":"quantitative"},"y":{"field":"y","type":"quantitative"}}},
{"data":{"values":[{"t":4.7}]},"mark":{"type":"rule","color":"#000","strokeDash":[3,2],"strokeWidth":1.3},"encoding":{"y":{"field":"t","type":"quantitative"}}},
{"data":{"values":[{"a":-0.41,"y0":0,"y1":12}]},"mark":{"type":"rule","color":"#aaa"},"encoding":{"x":{"field":"a","type":"quantitative"},"y":{"field":"y0","type":"quantitative"},"y2":{"field":"y1"}}}]},
{"width":141,"height":95,"layer":[
{"data":{"name":"eE"},"mark":{"type":"area","color":"#fcd405","interpolate":"step"},"encoding":{"x":{"field":"x","type":"quantitative","scale":{"domain":[-1.06,36.34],"nice":false},"axis":{"tickCount":30,"labelOverlap":false,"format":"d","values":[0,5,10,15,20,25,30,35],"title":"Chromosome 6 (Mb)"}},"y":{"field":"y","type":"quantitative","scale":{"domain":[0,11.18],"nice":false},"axis":{"tickCount":30,"labelOverlap":false,"format":"d","values":[0,2,4,6,8,10],"title":"-log₁₀P"}}}},
{"data":{"name":"eP"},"mark":{"type":"circle","size":9,"color":"#fcd405","opacity":1},"encoding":{"x":{"field":"x","type":"quantitative"},"y":{"field":"y","type":"quantitative"}}},
{"data":{"values":[{"t":6}]},"mark":{"type":"rule","color":"#000","strokeDash":[3,2],"strokeWidth":1.3},"encoding":{"y":{"field":"t","type":"quantitative"}}},
{"data":{"values":[{"a":-1.06,"y0":0,"y1":10}]},"mark":{"type":"rule","color":"#aaa"},"encoding":{"x":{"field":"a","type":"quantitative"},"y":{"field":"y0","type":"quantitative"},"y2":{"field":"y1"}}}]},
{"width":141,"height":95,"layer":[
{"data":{"name":"fE"},"mark":{"type":"area","color":"#fcd405","interpolate":"step"},"encoding":{"x":{"field":"x","type":"quantitative","scale":{"domain":[-0.58,26.74],"nice":false},"axis":{"tickCount":30,"labelOverlap":false,"format":"d","values":[0,5,10,15,20,25],"title":"Chromosome 12 (Mb)"}},"y":{"field":"y","type":"quantitative","scale":{"domain":[0,8.74],"nice":false},"axis":{"tickCount":30,"labelOverlap":false,"format":"d","values":[0,2,4,6,8],"title":"-log₁₀P"}}}},
{"data":{"name":"fP"},"mark":{"type":"circle","size":9,"color":"#fcd405","opacity":1},"encoding":{"x":{"field":"x","type":"quantitative"},"y":{"field":"y","type":"quantitative"}}},
{"data":{"values":[{"t":6}]},"mark":{"type":"rule","color":"#000","strokeDash":[3,2],"strokeWidth":1.3},"encoding":{"y":{"field":"t","type":"quantitative"}}},
{"data":{"values":[{"a":-0.58,"y0":0,"y1":8}]},"mark":{"type":"rule","color":"#aaa"},"encoding":{"x":{"field":"a","type":"quantitative"},"y":{"field":"y0","type":"quantitative"},"y2":{"field":"y1"}}}]}
]}
]}
